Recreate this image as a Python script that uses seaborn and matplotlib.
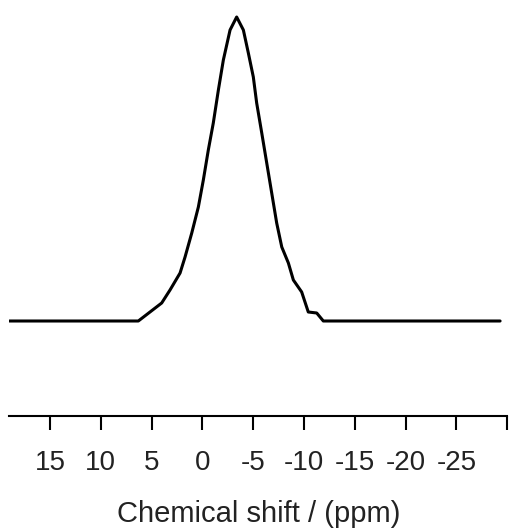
import numpy as np
import pandas as pd
import matplotlib
matplotlib.use('Agg')
import matplotlib.pyplot as plt
import seaborn as sns

# Spectrum (ppm, intensity in arbitrary units)
shift_ppm = [19.0, 6.31, 5.16, 4.01, 3.19, 2.20, 1.71, 1.05, 0.40, -0.09, -0.58,
             -1.07, -1.57, -2.06, -2.72, -3.37, -4.03, -4.52, -5.01, -5.34, -5.84,
             -6.33, -6.82, -7.31, -7.81, -8.46, -8.95, -9.77, -10.42, -11.25,
             -11.90, -29.3]
intensity = [0, 0, 9, 18, 31, 48, 64, 88, 114, 141, 171,
             198, 231, 261, 291, 304, 291, 268, 244, 218, 188,
             158, 128, 98, 74, 58, 41, 29, 9, 8,
             0, 0]

tick_values = [15, 10, 5, 0, -5, -10, -15, -20, -25, -30]
tick_labels = ['15', '10', '5', '0', '-5', '-10', '-15', '-20', '-25', '']

df = pd.DataFrame({'shift': shift_ppm, 'intensity': intensity})

sns.set_style('white')
plt.rcParams['font.family'] = ['Liberation Sans', 'DejaVu Sans']

fig = plt.figure(figsize=(5.09, 5.30), dpi=100)
ax = fig.add_axes([9.4 / 509, 1 - 415.7 / 530, 497.8 / 509, 405.7 / 530])

sns.lineplot(data=df, x='shift', y='intensity', sort=False, color='black',
             linewidth=2.2, ax=ax)

ax.set_xlim(19, -30)
ax.set_ylim(-94.7, 311)
ax.set_xticks(tick_values)
ax.set_xticklabels(tick_labels)
ax.set_yticks([])
ax.set_ylabel('')
ax.set_xlabel('Chemical shift / (ppm)', fontsize=21, labelpad=17, color='#222222')

for side in ['top', 'left', 'right']:
    ax.spines[side].set_visible(False)
ax.spines['bottom'].set_linewidth(1.5)
ax.spines['bottom'].set_color('black')
ax.tick_params(axis='x', direction='out', length=10, width=1.5, colors='black',
               labelcolor='#222222', labelsize=20, pad=15, bottom=True)

fig.savefig('out.png', dpi=100)
